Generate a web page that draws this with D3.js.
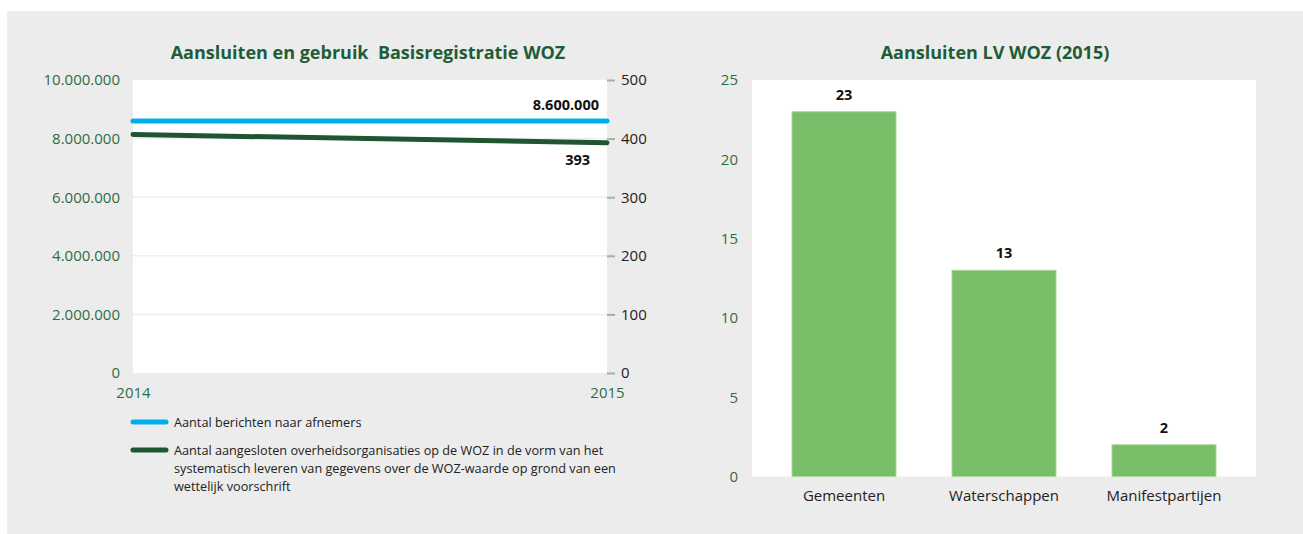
<!DOCTYPE html>
<html>
<head>
<meta charset="utf-8">
<script src="https://cdn.jsdelivr.net/npm/d3@7"></script>
<style>
  body { margin: 0; background: #fff; }
  svg { display: block; font-family: "Open Sans", sans-serif; }
</style>
</head>
<body>
<svg id="chart" width="1303" height="534"></svg>
<script>
// left chart data
var years = ['2014', '2015'];
var berichten = [8600000, 8600000];
var aangesloten = [407, 393];
var leftTicks = [0, 2000000, 4000000, 6000000, 8000000, 10000000];
var rightTicks = [0, 100, 200, 300, 400, 500];
var legendLabels = [
    ['Aantal berichten naar afnemers'],
    ['Aantal aangesloten overheidsorganisaties op de WOZ in de vorm van het',
     'systematisch leveren van gegevens over de WOZ-waarde op grond van een',
     'wettelijk voorschrift']
];

// right chart data
var categories = ['Gemeenten', 'Waterschappen', 'Manifestpartijen'];
var aansluiten = [23, 13, 2];
var barTicks = [0, 5, 10, 15, 20, 25];

var titleGreen = '#1f5c36';
var tickGreen = '#2f6c45';
var blue = '#00aeef';
var darkGreen = '#1f5631';
var barGreen = '#79bd69';

var svg = d3.select('#chart');
var nlFormat = function (v) {
    return d3.format(',')(v).replace(/,/g, '.');
};

svg.append('rect')
    .attr('x', 7).attr('y', 11)
    .attr('width', 1296).attr('height', 523)
    .attr('fill', '#ececec');

// ---------- left: line chart ----------
var left = { x0: 133, x1: 607, y0: 80, y1: 373 };

var x = d3.scalePoint().domain(years).range([left.x0, left.x1]);
var yLeft = d3.scaleLinear().domain([0, 10000000]).range([left.y1, left.y0]);
var yRight = d3.scaleLinear().domain([0, 500]).range([left.y1, left.y0]);

svg.append('text')
    .attr('x', 368).attr('y', 59)
    .attr('text-anchor', 'middle')
    .attr('font-size', 18).attr('font-weight', 'bold')
    .attr('fill', titleGreen)
    .style('white-space', 'pre')
    .text('Aansluiten en gebruik  Basisregistratie WOZ');

svg.append('rect')
    .attr('x', left.x0).attr('y', left.y0)
    .attr('width', left.x1 - left.x0).attr('height', left.y1 - left.y0)
    .attr('fill', '#fff');

svg.append('g').selectAll('line')
    .data(leftTicks.slice(1, -1))
    .enter().append('line')
    .attr('x1', left.x0).attr('x2', left.x1)
    .attr('y1', function (d) { return yLeft(d); })
    .attr('y2', function (d) { return yLeft(d); })
    .attr('stroke', '#efefef').attr('stroke-width', 1.5);

var leftAxis = svg.append('g')
    .attr('transform', 'translate(' + (left.x0 - 10) + ',0)')
    .call(d3.axisLeft(yLeft).tickValues(leftTicks).tickSize(0).tickFormat(nlFormat));
leftAxis.select('.domain').remove();
leftAxis.selectAll('text')
    .attr('font-size', 15).attr('fill', tickGreen)
    .attr('font-family', '"Open Sans", sans-serif');

var rightAxis = svg.append('g')
    .attr('transform', 'translate(' + left.x1 + ',0)')
    .call(d3.axisRight(yRight).tickValues(rightTicks).tickSize(8).tickPadding(6));
rightAxis.select('.domain').remove();
rightAxis.selectAll('line').attr('stroke', '#9db3a3').attr('stroke-width', 2);
rightAxis.selectAll('text')
    .attr('font-size', 15).attr('fill', '#222')
    .attr('font-family', '"Open Sans", sans-serif');

var xAxis = svg.append('g')
    .attr('transform', 'translate(0,' + (left.y1 + 11) + ')')
    .call(d3.axisBottom(x).tickSize(0));
xAxis.select('.domain').remove();
xAxis.selectAll('text')
    .attr('font-size', 15).attr('fill', tickGreen)
    .attr('font-family', '"Open Sans", sans-serif');

var lineLeft = d3.line()
    .x(function (d, i) { return x(years[i]); })
    .y(function (d) { return yLeft(d); });
var lineRight = d3.line()
    .x(function (d, i) { return x(years[i]); })
    .y(function (d) { return yRight(d); });

svg.append('path')
    .attr('d', lineLeft(berichten))
    .attr('fill', 'none').attr('stroke', blue)
    .attr('stroke-width', 5).attr('stroke-linecap', 'round');

svg.append('path')
    .attr('d', lineRight(aangesloten))
    .attr('fill', 'none').attr('stroke', darkGreen)
    .attr('stroke-width', 5).attr('stroke-linecap', 'round');

svg.append('text')
    .attr('x', left.x1 - 8).attr('y', yLeft(berichten[1]) - 11)
    .attr('text-anchor', 'end')
    .attr('font-size', 14.5).attr('font-weight', 'bold').attr('fill', '#111')
    .text(nlFormat(berichten[1]));

svg.append('text')
    .attr('x', left.x1 - 17).attr('y', yRight(aangesloten[1]) + 22)
    .attr('text-anchor', 'end')
    .attr('font-size', 14.5).attr('font-weight', 'bold').attr('fill', '#111')
    .text(aangesloten[1]);

// legend
var legendY = [422, 450];
var legendColors = [blue, darkGreen];
legendLabels.forEach(function (lines, i) {
    svg.append('line')
        .attr('x1', 133).attr('x2', 166)
        .attr('y1', legendY[i]).attr('y2', legendY[i])
        .attr('stroke', legendColors[i]).attr('stroke-width', 5)
        .attr('stroke-linecap', 'round');
    var t = svg.append('text')
        .attr('x', 174).attr('y', legendY[i] + 4.5)
        .attr('font-size', 12.7).attr('fill', '#222');
    lines.forEach(function (l, j) {
        t.append('tspan').attr('x', 174).attr('dy', j === 0 ? 0 : 18).text(l);
    });
});

// ---------- right: bar chart ----------
var right = { x0: 752, x1: 1256, y0: 80, y1: 476.5 };

var xb = d3.scaleBand().domain(categories).range([right.x0, right.x1])
    .paddingInner(0.35).paddingOuter(0.25);
var yb = d3.scaleLinear().domain([0, 25]).range([right.y1, right.y0]);

svg.append('text')
    .attr('x', 995).attr('y', 59)
    .attr('text-anchor', 'middle')
    .attr('font-size', 18).attr('font-weight', 'bold')
    .attr('fill', titleGreen)
    .text('Aansluiten LV WOZ (2015)');

svg.append('rect')
    .attr('x', right.x0).attr('y', right.y0)
    .attr('width', right.x1 - right.x0).attr('height', right.y1 - right.y0)
    .attr('fill', '#fff');

var barAxis = svg.append('g')
    .attr('transform', 'translate(' + (right.x0 - 11) + ',0)')
    .call(d3.axisLeft(yb).tickValues(barTicks).tickSize(0));
barAxis.select('.domain').remove();
barAxis.selectAll('text')
    .attr('font-size', 15).attr('fill', tickGreen)
    .attr('font-family', '"Open Sans", sans-serif');

svg.append('g').selectAll('rect')
    .data(aansluiten)
    .enter().append('rect')
    .attr('x', function (d, i) { return xb(categories[i]); })
    .attr('y', function (d) { return yb(d); })
    .attr('width', xb.bandwidth())
    .attr('height', function (d) { return right.y1 - yb(d); })
    .attr('fill', barGreen)
    .attr('stroke', '#a9d89c').attr('stroke-width', 1);

svg.append('g').selectAll('text')
    .data(aansluiten)
    .enter().append('text')
    .attr('x', function (d, i) { return xb(categories[i]) + xb.bandwidth() / 2; })
    .attr('y', function (d) { return yb(d) - 12; })
    .attr('text-anchor', 'middle')
    .attr('font-size', 14.5).attr('font-weight', 'bold').attr('fill', '#111')
    .text(function (d) { return d; });

var catAxis = svg.append('g')
    .attr('transform', 'translate(0,' + (right.y1 + 11) + ')')
    .call(d3.axisBottom(xb).tickSize(0));
catAxis.select('.domain').remove();
catAxis.selectAll('text')
    .attr('font-size', 15).attr('fill', '#222')
    .attr('font-family', '"Open Sans", sans-serif');
</script>
</body>
</html>
